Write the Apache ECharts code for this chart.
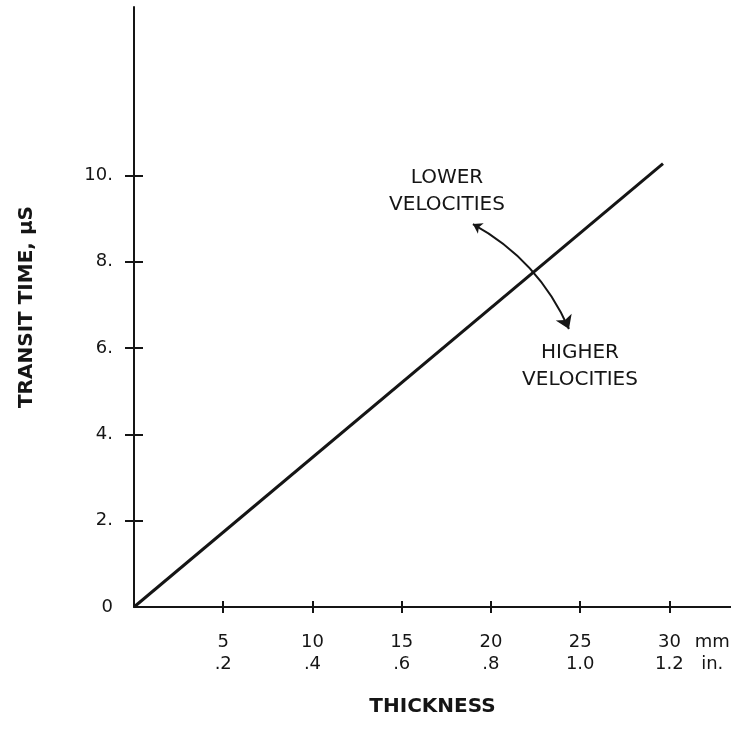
<!DOCTYPE html>
<html>
<head>
<meta charset="utf-8">
<script src="https://cdn.jsdelivr.net/npm/echarts@6/dist/echarts.min.js"></script>
<style>
  html, body { margin: 0; padding: 0; background: #fff; }
  #chart { width: 731px; height: 742px; }
</style>
</head>
<body>
<div id="chart"></div>
<script>
// Thickness ticks (mm) and their inch equivalents
const mmTicks = [5, 10, 15, 20, 25, 30];
const mmText = ['5', '10', '15', '20', '25', '30'];
const inText = ['.2', '.4', '.6', '.8', '1.0', '1.2'];
const unitPos = 32.4;          // where the "mm / in." unit label sits on the axis
const unitText = ['mm', 'in.'];

// Transit time ticks (µs)
const yTicks = [0, 2, 4, 6, 8, 10];
const yText = ['0', '2.', '4.', '6.', '8.', '10.'];

// Transit time versus thickness
const transitLine = [[0, 0], [29.64, 10.27]];

// Curved double arrow across the line (data coordinates)
const velocityArrow = [[18.99, 8.87], [24.37, 6.44]];

const FONT = '"DejaVu Sans", Verdana, sans-serif';
const INK = '#151515';

const GRID = { left: 134, right: 0, top: 7, bottom: 135 };
const GRID_W = 731 - GRID.left - GRID.right;
const GRID_H = 742 - GRID.top - GRID.bottom;

const chart = echarts.init(document.getElementById('chart'), null, { renderer: 'canvas' });

const xBase = { type: 'value', min: 0, max: 33.45, splitLine: { show: false } };
const yBase = { type: 'value', min: 0, max: 13.9, splitLine: { show: false } };
const tickStyle = { color: INK, width: 2 };

chart.setOption({
  backgroundColor: '#fff',
  animation: false,
  grid: Object.assign({ containLabel: false, outerBoundsMode: 'none' }, GRID),
  xAxis: [
    Object.assign({}, xBase, {
      position: 'bottom',
      name: 'THICKNESS',
      nameLocation: 'middle',
      nameGap: 90,
      nameTextStyle: { fontFamily: FONT, fontWeight: 'bold', fontSize: 20, color: INK },
      axisLine: { show: true, onZero: false, lineStyle: { color: INK, width: 2 } },
      axisTick: { show: true, inside: false, length: 6, customValues: mmTicks, lineStyle: tickStyle },
      axisLabel: {
        show: true, margin: 24,
        customValues: mmTicks.concat([unitPos]),
        fontFamily: FONT, fontSize: 18, lineHeight: 22, color: INK,
        formatter: function (v) {
          if (Math.abs(v - unitPos) < 1e-6) return unitText.join('\n');
          const i = mmTicks.indexOf(v);
          return i >= 0 ? mmText[i] + '\n' + inText[i] : '';
        }
      }
    }),
    // upper half of the crossing ticks, laid over the bottom axis line
    Object.assign({}, xBase, {
      position: 'top',
      offset: -GRID_H,
      axisLine: { show: false, onZero: false },
      axisTick: { show: true, inside: false, length: 6, customValues: mmTicks, lineStyle: tickStyle },
      axisLabel: { show: false }
    })
  ],
  yAxis: [
    Object.assign({}, yBase, {
      position: 'left',
      name: 'TRANSIT TIME, µS',
      nameLocation: 'middle',
      nameGap: 97,
      nameRotate: 90,
      nameTextStyle: { fontFamily: FONT, fontWeight: 'bold', fontSize: 20, color: INK },
      axisLine: { show: true, onZero: false, lineStyle: { color: INK, width: 2 } },
      axisTick: { show: true, inside: false, length: 9, customValues: yTicks.slice(1), lineStyle: tickStyle },
      axisLabel: {
        show: true, margin: 21,
        customValues: yTicks,
        fontFamily: FONT, fontSize: 18, color: INK,
        formatter: function (v) {
          const i = yTicks.indexOf(v);
          return i >= 0 ? yText[i] : '';
        }
      }
    }),
    // right half of the crossing ticks, laid over the left axis line
    Object.assign({}, yBase, {
      position: 'right',
      offset: -GRID_W,
      axisLine: { show: false, onZero: false },
      axisTick: { show: true, inside: false, length: 9, customValues: yTicks.slice(1), lineStyle: tickStyle },
      axisLabel: { show: false }
    })
  ],
  series: [
    {
      type: 'line',
      xAxisIndex: 0, yAxisIndex: 0,
      data: transitLine,
      symbol: 'none',
      lineStyle: { color: INK, width: 3 },
      silent: true
    },
    {
      type: 'lines',
      coordinateSystem: 'cartesian2d',
      xAxisIndex: 0, yAxisIndex: 0,
      symbol: ['arrow', 'arrow'],
      symbolSize: [9, 13],
      lineStyle: { color: INK, width: 2, curveness: 0.17, opacity: 1 },
      data: [{ coords: velocityArrow }],
      silent: true
    }
  ],
  graphic: [
    {
      type: 'text',
      x: 447, y: 191,
      style: {
        text: 'LOWER\nVELOCITIES',
        font: '20px ' + FONT, fill: INK,
        align: 'center', verticalAlign: 'middle', lineHeight: 27
      }
    },
    {
      type: 'text',
      x: 580, y: 366,
      style: {
        text: 'HIGHER\nVELOCITIES',
        font: '20px ' + FONT, fill: INK,
        align: 'center', verticalAlign: 'middle', lineHeight: 27
      }
    }
  ]
});
</script>
</body>
</html>
